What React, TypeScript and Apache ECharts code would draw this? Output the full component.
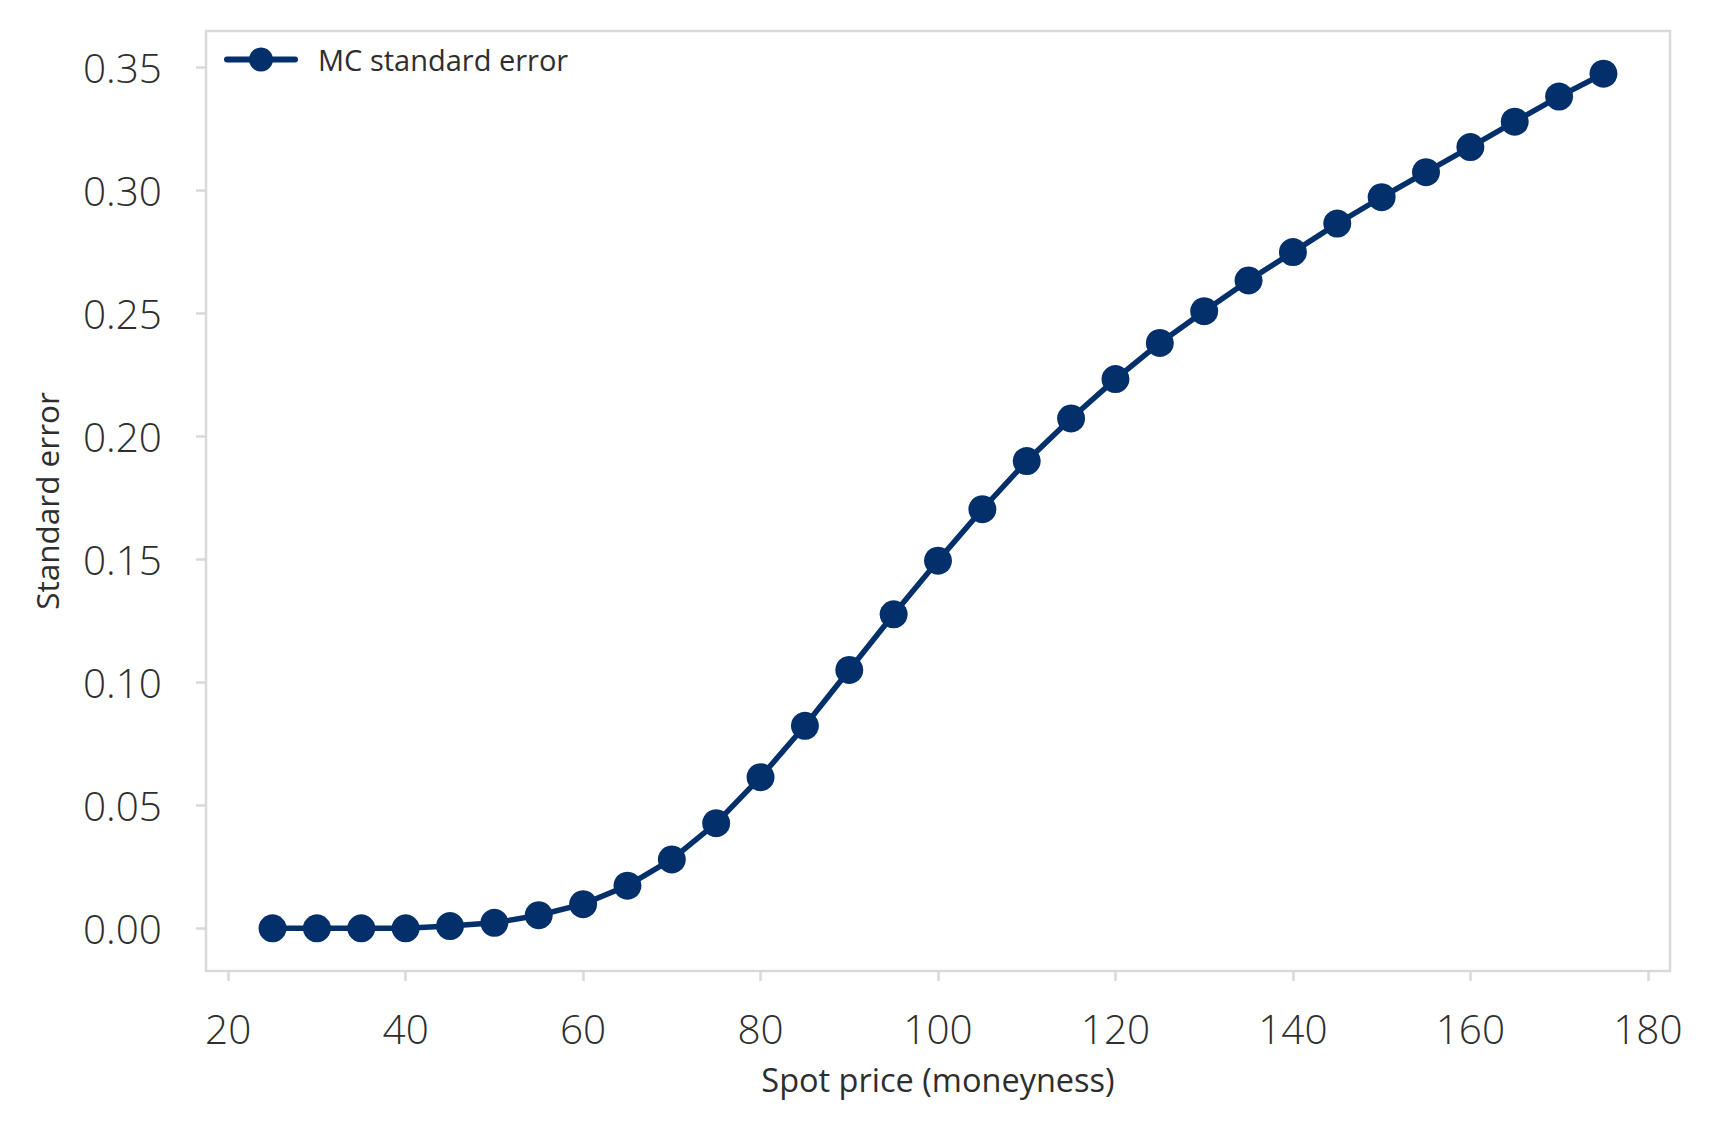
import React, { useEffect, useRef } from "react";
import * as echarts from "echarts";

const spotPrices = [25, 30, 35, 40, 45, 50, 55, 60, 65, 70, 75, 80, 85, 90, 95, 100, 105, 110, 115, 120, 125, 130, 135, 140, 145, 150, 155, 160, 165, 170, 175];
const stdErrors = [0.0, 0.0, 0.0, 0.0, 0.0009, 0.0022, 0.0053, 0.0098, 0.0173, 0.028, 0.0427, 0.0614, 0.0823, 0.105, 0.1276, 0.1494, 0.1703, 0.1899, 0.2072, 0.2232, 0.2379, 0.2508, 0.2633, 0.2748, 0.2864, 0.2971, 0.3073, 0.3175, 0.3278, 0.338, 0.3473];
const xTicks = [20, 40, 60, 80, 100, 120, 140, 160, 180];
const yTicks = [0, 0.05, 0.1, 0.15, 0.2, 0.25, 0.3, 0.35];
const seriesName = "MC standard error";
const xTitle = "Spot price (moneyness)";
const yTitle = "Standard error";

const FONT = "'Open Sans', 'Noto Sans', sans-serif";
const NAVY = "#03306a";
const SPINE = "#d9d9d9";
const TEXT = "#2e2e2e";

export default function App() {
  const ref = useRef<HTMLDivElement>(null);
  useEffect(() => {
    if (!ref.current) return;
    const chart = echarts.init(ref.current, null, { renderer: "svg" });
    const xMin = 25 - 7.5;
    const xMax = 175 + 7.5;
    const yMaxData = Math.max(...stdErrors);
    const yPad = yMaxData * 0.05;
    chart.setOption({
      animation: false,
      backgroundColor: "#ffffff",
      grid: {
        left: 206,
        right: 44,
        top: 31,
        bottom: 163,
        show: true,
        borderColor: SPINE,
        borderWidth: 2.5,
        containLabel: false,
      },
      legend: {
        show: true,
        left: 224,
        top: 45,
        padding: 0,
        itemWidth: 68,
        itemHeight: 30,
        lineStyle: { width: 6, cap: "round" },
        textStyle: {
          fontFamily: FONT,
          fontSize: 29,
          color: TEXT,
          padding: [0, 0, 0, 18],
        },
        data: [seriesName],
      },
      xAxis: {
        type: "value",
        min: xMin,
        max: xMax,
        name: xTitle,
        nameLocation: "middle",
        nameGap: 92,
        nameTextStyle: { fontFamily: FONT, fontSize: 32.5, color: TEXT },
        axisLine: { show: false, onZero: false },
        splitLine: { show: false },
        axisTick: {
          show: true,
          length: 10,
          customValues: xTicks,
          lineStyle: { color: SPINE, width: 2.5 },
        },
        axisLabel: {
          customValues: xTicks,
          margin: 37,
          fontFamily: FONT,
          fontSize: 40.5,
          fontWeight: 300,
          color: TEXT,
          formatter: (v: number) => String(Math.round(v)),
        },
      },
      yAxis: {
        type: "value",
        min: -yPad,
        max: yMaxData + yPad,
        name: yTitle,
        nameLocation: "middle",
        nameGap: 144,
        nameTextStyle: { fontFamily: FONT, fontSize: 31.5, color: TEXT },
        axisLine: { show: false, onZero: false },
        splitLine: { show: false },
        axisTick: {
          show: true,
          length: 10,
          customValues: yTicks,
          lineStyle: { color: SPINE, width: 2.5 },
        },
        axisLabel: {
          customValues: yTicks,
          margin: 44,
          fontFamily: FONT,
          fontSize: 40.5,
          fontWeight: 300,
          color: TEXT,
          formatter: (v: number) => v.toFixed(2),
        },
      },
      series: [
        {
          name: seriesName,
          type: "line",
          data: spotPrices.map((x, i) => [x, stdErrors[i]]),
          symbol: "circle",
          symbolSize: 28,
          showSymbol: true,
          lineStyle: { color: NAVY, width: 5.5 },
          itemStyle: { color: NAVY },
        },
      ],
    });
    return () => chart.dispose();
  }, []);
  return <div ref={ref} style={{ width: 1714, height: 1134, position: "absolute", left: 0, top: 0 }} />;
}
